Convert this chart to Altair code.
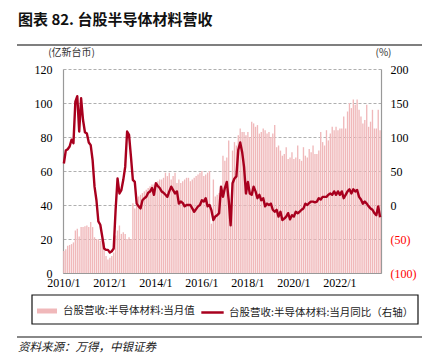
import altair as alt
import pandas as pd

TITLE = "图表 82. 台股半导体材料营收"
SOURCE = "资料来源：万得，中银证券"
BAR_NAME = "台股营收:半导体材料:当月值"
LINE_NAME = "台股营收:半导体材料:当月同比（右轴）"
LEFT_UNIT = "(亿新台币)"
RIGHT_UNIT = "(%)"

years = list(range(2010, 2024))
x_tick_labels = ["2010/1", "2012/1", "2014/1", "2016/1", "2018/1", "2020/1", "2022/1"]

rev_2010 = [13, 14, 16, 16.5, 17, 18, 25, 26, 21.5, 27, 27, 27.5]
rev_2011 = [28, 27, 30, 27, 21, 20, 20, 19, 19.5, 18, 10, 8]
rev_2012 = [9, 10, 12, 22, 25, 28, 23, 24, 23, 20, 21, 20]
rev_2013 = [41, 38, 41, 45, 46, 47, 48, 49, 50, 51, 52, 52]
rev_2014 = [53, 54, 55, 55, 56, 59, 57, 59, 55, 57, 59, 53]
rev_2015 = [55, 53, 54, 55, 56, 56, 54, 55, 56, 57, 58, 59]
rev_2016 = [60, 57, 58, 59, 60, 29, 55, 45, 46, 47, 45, 69]
rev_2017 = [66, 68, 78, 34, 72, 77, 75, 81, 85, 83, 83, 81]
rev_2018 = [83, 80, 89, 88, 86, 87, 82, 83, 85, 84, 82, 83]
rev_2019 = [80, 82, 87, 74, 75, 72, 69, 70, 74, 67, 68, 71]
rev_2020 = [67, 68, 75, 67, 66, 74, 69, 68, 73, 71, 75, 70]
rev_2021 = [70, 72, 83, 77, 75, 84, 78, 82, 86, 84, 86, 84]
rev_2022 = [85, 85, 92, 85, 95, 100, 97, 102, 99, 102, 96, 92]
rev_2023 = [88, 90, 99, 86, 89, 96, 85, 85, 96, 84]

yoy_2010 = [61, 80, 82, 86, 96, 91, 152, 160, 108, 157, 125, 107]
yoy_2011 = [105, 92, 88, 66, 27, 7, -24, -29, -46, -64, -66, -66]
yoy_2012 = [-70, -68, -64, -7, 39, 17, 22, 37, 56, 108, 103, 71]
yoy_2013 = [37, 34, 2, -2, -5, 7, 10, 12, 18, 20, 25, 15]
yoy_2014 = [32, 28, 25, 20, 18, 15, 12, 20, 27, 22, 17, 20]
yoy_2015 = [2, 5, 3, -2, 0, 0, 0, -5, -10, -6, -2, 0]
yoy_2016 = [7, 5, 10, -2, 0, -8, -22, -17, -15, -12, 27, 12]
yoy_2017 = [25, 34, 7, -30, 32, 39, 42, 81, 92, 78, 56, 17]
yoy_2018 = [34, 17, 15, 27, 20, 10, 15, 7, 10, -2, 2, 0]
yoy_2019 = [2, -7, -10, -7, -17, -10, -22, -20, -17, -12, -21, -15]
yoy_2020 = [-17, -10, -12, -10, -7, -5, 2, 0, 3, 5, 5, 4]
yoy_2021 = [5, 10, 8, 12, 12, 12, 15, 17, 15, 20, 15, 20]
yoy_2022 = [15, 20, 10, 15, 20, 23, 17, 23, 20, 22, 12, 8]
yoy_2023 = [2, 5, 2, -2, -5, -7, -12, -15, -2, -18]

revenue = (rev_2010 + rev_2011 + rev_2012 + rev_2013 + rev_2014 + rev_2015 + rev_2016
           + rev_2017 + rev_2018 + rev_2019 + rev_2020 + rev_2021 + rev_2022 + rev_2023)
yoy = (yoy_2010 + yoy_2011 + yoy_2012 + yoy_2013 + yoy_2014 + yoy_2015 + yoy_2016
       + yoy_2017 + yoy_2018 + yoy_2019 + yoy_2020 + yoy_2021 + yoy_2022 + yoy_2023)
months = [f"{y}/{m}" for y in years for m in range(1, 13)][:len(revenue)]

df = pd.DataFrame({"month": months, "rev": revenue, "yoy": yoy,
                   "s1": BAR_NAME, "s2": LINE_NAME})

PINK = "#F0B8BA"
RED = "#A8001E"
SERIF = "Liberation Serif"
CJK = "Noto Sans CJK SC"

x_enc = alt.X("month:O", sort=months,
              scale=alt.Scale(paddingInner=0.3, paddingOuter=0.1),
              axis=alt.Axis(values=x_tick_labels, labelAngle=0, title=None,
                            ticks=False, labelPadding=4, labelFont=SERIF,
                            labelFontSize=12, labelColor="#000",
                            domainColor="#999", domainWidth=1.2))

bars = alt.Chart(df).mark_bar(stroke=None).encode(
    x=x_enc,
    y=alt.Y("rev:Q", scale=alt.Scale(domain=[0, 120], nice=False),
            axis=alt.Axis(values=[0, 20, 40, 60, 80, 100, 120], grid=True,
                          gridDash=[3, 2], gridColor="#9a9a9a", gridWidth=0.8,
                          ticks=False, tickSize=0, labelPadding=11,
                          labelFont=SERIF, labelFontSize=12, labelColor="#000",
                          domainColor="#999", domainWidth=1.2,
                          title=LEFT_UNIT, titleAngle=0, titleX=8, titleY=-17,
                          titleAlign="center", titleBaseline="middle",
                          titleFont=CJK, titleFontSize=10, titleFontWeight="normal",
                          titleColor="#333")),
    fill=alt.Fill("s1:N", scale=alt.Scale(domain=[BAR_NAME], range=[PINK]),
                  legend=alt.Legend(title=None, orient="none", legendX=-31, legendY=227,
                                    symbolType="M-1,-0.25H1V0.25H-1Z", symbolSize=400,
                                    labelFont=CJK, labelFontSize=10.5, labelColor="#222",
                                    labelOffset=5, padding=4, labelLimit=0)),
)

line = alt.Chart(df).mark_line(strokeWidth=2.4, strokeJoin="round").encode(
    x=x_enc,
    y=alt.Y("yoy:Q", scale=alt.Scale(domain=[-100, 200], nice=False),
            axis=alt.Axis(orient="right", values=[-100, -50, 0, 50, 100, 150, 200],
                          grid=False, ticks=False, tickSize=0, labelPadding=9,
                          labelExpr="datum.value < 0 ? '(' + abs(datum.value) + ')' : datum.value",
                          labelColor=alt.condition("datum.value < 0", alt.value("#FF0000"), alt.value("#000000")),
                          labelFont=SERIF, labelFontSize=12,
                          domainColor="#999", domainWidth=1.2,
                          title=RIGHT_UNIT, titleAngle=0, titleX=2, titleY=-17,
                          titleAlign="center", titleBaseline="middle",
                          titleFont=CJK, titleFontSize=10, titleFontWeight="normal",
                          titleColor="#333")),
    stroke=alt.Stroke("s2:N", scale=alt.Scale(domain=[LINE_NAME], range=[RED]),
                      legend=alt.Legend(title=None, orient="none", legendX=133, legendY=227,
                                        symbolType="stroke", symbolSize=500,
                                        symbolStrokeWidth=2.5,
                                        labelFont=CJK, labelFontSize=10.5, labelColor="#222",
                                        labelOffset=4, padding=4, labelLimit=0)),
)

one = pd.DataFrame({"t": [TITLE]})
title = alt.Chart(one).mark_text(align="left", baseline="middle", font=CJK,
                                  fontSize=15, fontWeight="bold", color="#111").encode(
    text="t:N", x=alt.value(-45), y=alt.value(-49))

src = alt.Chart(pd.DataFrame({"t": [SOURCE]})).mark_text(
    align="left", baseline="middle", font=CJK, fontSize=11.5, fontStyle="italic",
    color="#222").encode(text="t:N", x=alt.value(-45), y=alt.value(279))

top_rule = alt.Chart(one).mark_rule(color="#555", strokeWidth=1.5).encode(
    x=alt.value(-46), x2=alt.value(361), y=alt.value(-24))
bottom_rule = alt.Chart(one).mark_rule(color="#888", strokeWidth=2).encode(
    x=alt.value(-46), x2=alt.value(361), y=alt.value(268))
box = alt.Chart(one).mark_rect(fill="transparent", stroke="#111", strokeWidth=1.2).encode(
    x=alt.value(-31), x2=alt.value(355), y=alt.value(226), y2=alt.value(255))

chart = alt.layer(bars, line, title, src, top_rule, bottom_rule, box).resolve_scale(
    y="independent", fill="independent", stroke="independent"
).properties(
    width=318, height=204,
    padding={"left": 55, "top": 61, "right": 41, "bottom": 83},
    autosize=alt.AutoSizeParams(type="none"),
).configure_view(stroke=None)

chart.save("out.html", embed_options={"renderer": "svg", "actions": False})
